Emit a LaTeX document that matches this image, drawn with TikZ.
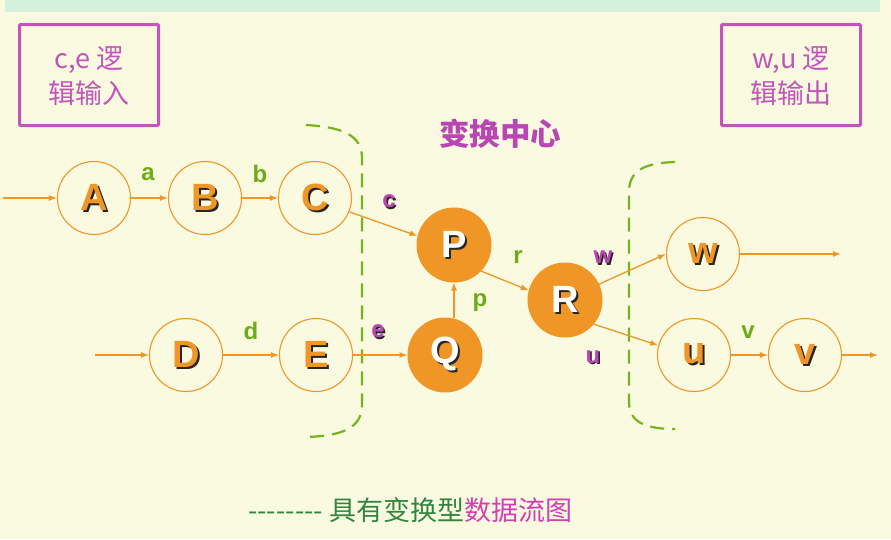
\documentclass[tikz,border=0pt]{standalone}
\usepackage{fontspec}
\setmainfont{Liberation Sans}
\newfontfamily\cjk{Noto Sans CJK SC}
\usetikzlibrary{arrows.meta}
\definecolor{bg}{RGB}{250,250,224}
\definecolor{band}{RGB}{212,241,222}
\definecolor{orng}{RGB}{240,150,38}
\definecolor{lgreen}{RGB}{108,172,22}
\definecolor{lpurple}{RGB}{185,70,178}
\definecolor{boxpurple}{RGB}{196,84,186}
\definecolor{brgreen}{RGB}{118,180,30}
\definecolor{dgreen}{RGB}{48,134,64}
\definecolor{magen}{RGB}{214,62,180}
\newcommand\shtxt[3]{\rlap{\hspace{#3}\raisebox{-#3}{\color{black!85}#2}}{\color{#1}#2}}
\begin{document}
\begin{tikzpicture}[x=1pt,y=-1pt,
  opennode/.style={circle, draw=orng, line width=1.1pt, fill=bg, minimum size=73pt, inner sep=0pt, font=\fontsize{38}{38}\selectfont\bfseries},
  fillnode/.style={circle, draw=orng, fill=orng, line width=1pt, minimum size=74pt, inner sep=0pt, font=\fontsize{38}{38}\selectfont\bfseries},
  arr/.style={draw=orng, line width=1.3pt, -{Latex[length=8pt,width=6pt]}},
  glab/.style={font=\fontsize{24}{24}\selectfont\bfseries, text=lgreen, inner sep=0pt},
  plab/.style={font=\fontsize{24}{24}\selectfont\bfseries, inner sep=0pt},
  bracket/.style={draw=brgreen, line width=2.2pt, dash pattern=on 14pt off 8pt},
  ctbox/.style={draw=boxpurple, line width=3pt, rounded corners=1pt, minimum width=139pt, minimum height=101pt, inner sep=0pt},
  boxtxt/.style={font=\cjk\fontsize{27}{35}\selectfont, text=boxpurple, align=center}
]
\fill[bg] (0,0) rectangle (891,539);
\useasboundingbox (0,0) rectangle (891,539);
\fill[band] (5,-2) rectangle (880,12);

% boxes
\node[ctbox] (inbox) at (89,75) {};
\node[boxtxt] (intext) at (89,76) {c,e 逻\\辑输入};
\node[ctbox] (outbox) at (791,75) {};
\node[boxtxt] (outtext) at (791,76) {w,u 逻\\辑输出};

% title
\node[font=\cjk\fontsize{30.5}{30.5}\selectfont\bfseries, text=lpurple] (center) at (500,134) {变换中心};

% brackets
\draw[bracket] (306,125) .. controls (342,127) and (362,135) .. (362,158) -- (362,405) .. controls (362,428) and (342,436) .. (306,437);
\draw[bracket] (675,162) .. controls (645,163) and (629,170) .. (629,192) -- (629,402) .. controls (629,422) and (645,429) .. (675,429);

% nodes
\node[opennode] (A) at (94,198) {\shtxt{orng}{A}{2pt}};
\node[opennode] (B) at (205,198) {\shtxt{orng}{B}{2pt}};
\node[opennode] (C) at (315,198) {\shtxt{orng}{C}{2pt}};
\node[opennode] (D) at (186,355) {\shtxt{orng}{D}{2pt}};
\node[opennode] (E) at (316,355) {\shtxt{orng}{E}{2pt}};
\node[fillnode] (P) at (454,245) {\shtxt{white}{P}{2pt}};
\node[fillnode] (Q) at (445,355) {\shtxt{white}{Q}{2pt}};
\node[fillnode] (R) at (565,300) {\shtxt{white}{R}{2pt}};
\node[opennode] (w) at (703,254) {\shtxt{orng}{w}{2pt}};
\node[opennode] (u) at (694,355) {\shtxt{orng}{u}{2pt}};
\node[opennode] (v) at (805,355) {\shtxt{orng}{v}{2pt}};

\coordinate (inA) at (3,198);
\coordinate (inD) at (95,355);
\coordinate (outw) at (841,254);
\coordinate (outv) at (878,355);

% connectors
\draw[arr] (inA) -- (A);
\draw[arr] (A) -- (B);
\draw[arr] (B) -- (C);
\draw[arr] (C.-22) -- (P.166);
\draw[arr] (inD) -- (D);
\draw[arr] (D) -- (E);
\draw[arr] (E) -- (Q);
\draw[arr] (Q.north -| P.south) -- (P.south);
\draw[arr] (P.-44) -- (R.165);
\draw[arr] (R.25) -- (w.west);
\draw[arr] (R.-40) -- (u.165);
\draw[arr] (w) -- (outw);
\draw[arr] (u) -- (v);
\draw[arr] (v) -- (outv);

% labels
\node[glab] (la) at (148,174) {a};
\node[glab] (lb) at (260,174) {b};
\node[plab] (lc) at (389,202) {\shtxt{lpurple}{c}{1.5pt}};
\node[glab] (ld) at (251,331) {d};
\node[plab] (le) at (378,332) {\shtxt{lpurple}{e}{1.5pt}};
\node[glab] (lp) at (480,303) {p};
\node[glab] (lr) at (518,257) {r};
\node[plab] (lw) at (603,258) {\shtxt{lpurple}{w}{1.5pt}};
\node[plab] (lu) at (593,358) {\shtxt{lpurple}{u}{1.5pt}};
\node[glab] (lv) at (748,332) {v};

% bottom caption
\node[font=\cjk\fontsize{27}{27}\selectfont, inner sep=0pt, anchor=west] (caption) at (248,510) {\color{dgreen}-------- 具有变换型\color{magen}数据流图};
\end{tikzpicture}
\end{document}
